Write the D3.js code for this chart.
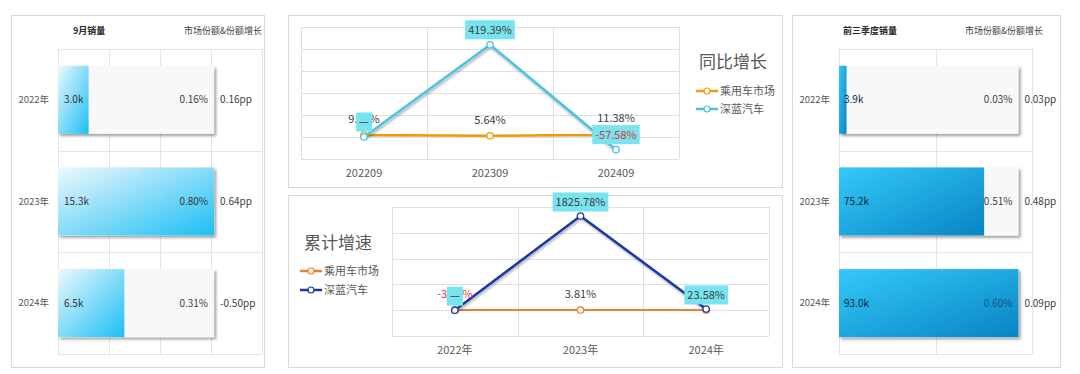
<!DOCTYPE html>
<html>
<head>
<meta charset="utf-8">
<script src="https://cdn.jsdelivr.net/npm/d3@7"></script>
<style>
  body { margin: 0; background: #fff; }
  text { font-family: "Noto Sans CJK SC", "Microsoft YaHei", sans-serif; }
</style>
</head>
<body>
<div id="chart"></div>
<script>
// 数据
const barYears = ["2022年", "2023年", "2024年"];
const sepSales = [3.0, 15.3, 6.5];          // k
const sepShare = [0.16, 0.80, 0.31];        // %
const sepShareChg = [0.16, 0.64, -0.50];    // pp
const ytdSales = [3.9, 75.2, 93.0];         // k
const ytdShare = [0.03, 0.51, 0.60];
const ytdShareChg = [0.03, 0.48, 0.09];

const yoyMonths = ["202209", "202309", "202409"];
const yoyMarket = [9.05, 5.64, 11.38];
const yoyDeepal = [null, 419.39, -57.58];

const cumYears = ["2022年", "2023年", "2024年"];
const cumMarket = [-3.22, 3.81, 1.86];
const cumDeepal = [null, 1825.78, 23.58];

const seriesNames = ["乘用车市场", "深蓝汽车"];

const width = 1080, height = 374;

const svg = d3.select("#chart").append("svg")
  .attr("width", width)
  .attr("height", height);

const defs = svg.append("defs");

const shadow = defs.append("filter").attr("id", "barShadow")
  .attr("x", "-10%").attr("y", "-10%").attr("width", "130%").attr("height", "140%");
shadow.append("feDropShadow").attr("dx", 2).attr("dy", 2)
  .attr("stdDeviation", 1.5).attr("flood-color", "#000").attr("flood-opacity", 0.4);

const lineShadow = defs.append("filter").attr("id", "lineShadow")
  .attr("x", "-10%").attr("y", "-20%").attr("width", "130%").attr("height", "150%");
lineShadow.append("feDropShadow").attr("dx", 1).attr("dy", 2)
  .attr("stdDeviation", 1.2).attr("flood-color", "#000").attr("flood-opacity", 0.3);

function gradient(id, c1, c2) {
  const gr = defs.append("linearGradient").attr("id", id)
    .attr("x1", 0).attr("y1", 0).attr("x2", 1).attr("y2", 1);
  gr.append("stop").attr("offset", "0%").attr("stop-color", c1);
  gr.append("stop").attr("offset", "100%").attr("stop-color", c2);
}
gradient("gradLight", "#eef8fd", "#1cbff4");
gradient("gradDark", "#34c9f8", "#0884c4");

function panelBox(x, y, w, h) {
  svg.append("rect")
    .attr("x", x + 0.5).attr("y", y + 0.5)
    .attr("width", w).attr("height", h)
    .attr("fill", "#fff")
    .attr("stroke", "#d9d9d9");
}

panelBox(11, 15, 253, 352);
panelBox(288, 15, 494, 172);
panelBox(288, 195, 494, 172);
panelBox(792, 15, 268, 352);

// 条形面板
function barPanel(cfg) {
  const g = svg.append("g");
  const top = 49, bottom = 354;
  const x = d3.scaleLinear().domain([0, cfg.xMax]).range([cfg.x0, cfg.x1]);
  const y = d3.scaleBand().domain(barYears).range([top, bottom])
    .paddingInner(0.33).paddingOuter(0.165);

  g.selectAll(".vg").data(x.ticks(cfg.ticks)).join("line")
    .attr("x1", d => Math.round(x(d)) + 0.5).attr("x2", d => Math.round(x(d)) + 0.5)
    .attr("y1", top).attr("y2", bottom)
    .attr("stroke", "#e4e4e4");

  const bounds = barYears.map(d => y(d) - y.step() * y.paddingInner() / 2).concat([bottom]);
  g.selectAll(".hg").data(bounds).join("line")
    .attr("x1", x(0)).attr("x2", cfg.x1)
    .attr("y1", d => Math.round(d) + 0.5).attr("y2", d => Math.round(d) + 0.5)
    .attr("stroke", "#e4e4e4");

  const maxV = d3.max(cfg.sales);
  g.selectAll(".bg").data(cfg.sales).join("rect")
    .attr("x", x(0))
    .attr("y", (d, i) => y(barYears[i]))
    .attr("width", x(maxV) - x(0))
    .attr("height", y.bandwidth())
    .attr("fill", "#f8f8f8")
    .attr("filter", "url(#barShadow)");

  g.selectAll(".bar").data(cfg.sales).join("rect")
    .attr("x", x(0))
    .attr("y", (d, i) => y(barYears[i]))
    .attr("width", d => x(d) - x(0))
    .attr("height", y.bandwidth())
    .attr("fill", `url(#${cfg.grad})`);

  const mid = i => y(barYears[i]) + y.bandwidth() / 2;

  g.selectAll(".yl").data(barYears).join("text")
    .attr("x", x(0) - 9)
    .attr("y", (d, i) => mid(i))
    .attr("dy", "0.35em")
    .attr("text-anchor", "end")
    .attr("font-size", "9.5px")
    .attr("fill", "#595959")
    .text(d => d);

  g.selectAll(".vl").data(cfg.sales).join("text")
    .attr("x", x(0) + cfg.valPad)
    .attr("y", (d, i) => mid(i))
    .attr("dy", "0.35em")
    .attr("font-size", "10px")
    .attr("fill", cfg.valColor)
    .text(d => d.toFixed(1) + "k");

  const shareX = x(maxV) - 6;
  g.selectAll(".sl").data(cfg.share).join("text")
    .attr("x", shareX)
    .attr("y", (d, i) => mid(i))
    .attr("dy", "0.35em")
    .attr("text-anchor", "end")
    .attr("font-size", "10px")
    .attr("fill", (d, i) => x(cfg.sales[i]) > shareX - 20 ? cfg.inBarColor : "#404040")
    .text(d => d.toFixed(2) + "%");

  g.selectAll(".cl").data(cfg.chg).join("text")
    .attr("x", x(maxV) + 6)
    .attr("y", (d, i) => mid(i))
    .attr("dy", "0.35em")
    .attr("font-size", "10px")
    .attr("fill", "#404040")
    .text(d => d.toFixed(2) + "pp");

  g.append("text")
    .attr("x", cfg.h1x).attr("y", 31).attr("dy", "0.35em")
    .attr("font-size", "9px").attr("font-weight", "bold").attr("fill", "#262626")
    .text(cfg.title);
  g.append("text")
    .attr("x", cfg.h2x).attr("y", 31).attr("dy", "0.35em")
    .attr("font-size", "9px").attr("fill", "#404040")
    .text("市场份额&份额增长");
}

barPanel({
  sales: sepSales, share: sepShare, chg: sepShareChg,
  xMax: 20, ticks: 4, x0: 58, x1: 262, grad: "gradLight",
  valPad: 6, valColor: "#333", inBarColor: "#333",
  title: "9月销量", h1x: 73, h2x: 184
});

barPanel({
  sales: ytdSales, share: ytdShare, chg: ytdShareChg,
  xMax: 100, ticks: 2, x0: 839, x1: 1032, grad: "gradDark",
  valPad: 5, valColor: "#10243a", inBarColor: "#1a5584",
  title: "前三季度销量", h1x: 843, h2x: 965
});

// 折线面板
function lineChart(cfg) {
  const g = svg.append("g");
  const x = d3.scaleBand().domain(cfg.cats).range([cfg.x0, cfg.x1]);
  const y = d3.scaleLinear().domain(cfg.yDomain).range([cfg.y1, cfg.y0]);
  const cx = d => x(d) + x.bandwidth() / 2;

  g.selectAll(".hg").data(y.ticks(cfg.ticks)).join("line")
    .attr("x1", cfg.x0).attr("x2", cfg.x1)
    .attr("y1", d => Math.round(y(d)) + 0.5).attr("y2", d => Math.round(y(d)) + 0.5)
    .attr("stroke", "#e0e0e0");

  const vb = cfg.cats.map(d => x(d)).concat([cfg.x1]);
  g.selectAll(".vg").data(vb).join("line")
    .attr("x1", d => Math.round(d) + 0.5).attr("x2", d => Math.round(d) + 0.5)
    .attr("y1", cfg.y0).attr("y2", cfg.y1)
    .attr("stroke", "#e0e0e0");

  g.selectAll(".xl").data(cfg.cats).join("text")
    .attr("x", cx)
    .attr("y", cfg.y1 + 14)
    .attr("dy", "0.35em")
    .attr("text-anchor", "middle")
    .attr("font-size", "11px")
    .attr("fill", "#595959")
    .text(d => d);

  const series = [
    { name: seriesNames[0], values: cfg.market, color: cfg.colors[0] },
    { name: seriesNames[1], values: cfg.deepal, color: cfg.colors[1] }
  ];

  const line = d3.line()
    .x((d, i) => cx(cfg.cats[i]))
    .y(d => y(d == null ? 0 : d));

  series.forEach(s => {
    g.append("path")
      .attr("d", line(s.values))
      .attr("fill", "none")
      .attr("stroke", s.color)
      .attr("stroke-width", 2.5)
      .attr("filter", "url(#lineShadow)");
    g.selectAll(null).data(s.values).join("circle")
      .attr("cx", (d, i) => cx(cfg.cats[i]))
      .attr("cy", d => y(d == null ? 0 : d))
      .attr("r", 3.2)
      .attr("fill", "#fff")
      .attr("stroke", s.color)
      .attr("stroke-width", 1.3);
  });

  const fmt = d => d == null ? "—" : d.toFixed(2) + "%";
  const txtColor = d => d != null && d < 0 ? "#d93838" : "#404040";

  // 市场标签
  g.selectAll(".ml").data(cfg.market).join("text")
    .attr("x", (d, i) => cx(cfg.cats[i]))
    .attr("y", d => y(d) - 16)
    .attr("dy", "0.35em")
    .attr("text-anchor", "middle")
    .attr("font-size", "11px")
    .attr("fill", txtColor)
    .text(fmt);

  // 深蓝标签（带底色）
  cfg.deepal.forEach((d, i) => {
    const py = y(d == null ? 0 : d) - cfg.boxOff;
    const lg = g.append("g");
    const t = lg.append("text")
      .attr("x", cx(cfg.cats[i]))
      .attr("y", py)
      .attr("dy", "0.35em")
      .attr("text-anchor", "middle")
      .attr("font-size", "11px")
      .attr("fill", txtColor(d))
      .text(fmt(d));
    const bb = t.node().getBBox();
    lg.insert("rect", "text")
      .attr("x", bb.x - 3).attr("y", py - 9.5)
      .attr("width", bb.width + 6).attr("height", 19)
      .attr("fill", "#78e4f0");
  });

  // 图例
  g.append("text")
    .attr("x", cfg.legend.tx).attr("y", cfg.legend.ty)
    .attr("dy", "0.35em")
    .attr("text-anchor", "middle")
    .attr("font-size", "17px")
    .attr("fill", "#595959")
    .text(cfg.title);

  series.forEach((s, i) => {
    const ly = cfg.legend.iy + i * cfg.legend.gap;
    g.append("line")
      .attr("x1", cfg.legend.lx).attr("x2", cfg.legend.lx + 22)
      .attr("y1", ly).attr("y2", ly)
      .attr("stroke", s.color).attr("stroke-width", 2.5);
    g.append("circle")
      .attr("cx", cfg.legend.lx + 11).attr("cy", ly).attr("r", 3)
      .attr("fill", "#fff").attr("stroke", s.color).attr("stroke-width", 1.2);
    g.append("text")
      .attr("x", cfg.legend.lx + 24).attr("y", ly)
      .attr("dy", "0.35em")
      .attr("font-size", "11px")
      .attr("fill", "#595959")
      .text(s.name);
  });
}

lineChart({
  cats: yoyMonths, market: yoyMarket, deepal: yoyDeepal,
  x0: 301, x1: 679, y0: 27, y1: 159,
  yDomain: [-100, 500], ticks: 6,
  colors: ["#f29a10", "#4cc1e3"],
  boxOff: 15,
  title: "同比增长",
  legend: { tx: 733, ty: 62, lx: 696, iy: 91, gap: 18 }
});

lineChart({
  cats: cumYears, market: cumMarket, deepal: cumDeepal,
  x0: 392, x1: 769, y0: 207, y1: 336,
  yDomain: [-500, 2000], ticks: 5,
  colors: ["#ee7f2d", "#1c38a0"],
  boxOff: 14,
  title: "累计增速",
  legend: { tx: 338, ty: 243, lx: 300, iy: 271, gap: 19 }
});
</script>
</body>
</html>
